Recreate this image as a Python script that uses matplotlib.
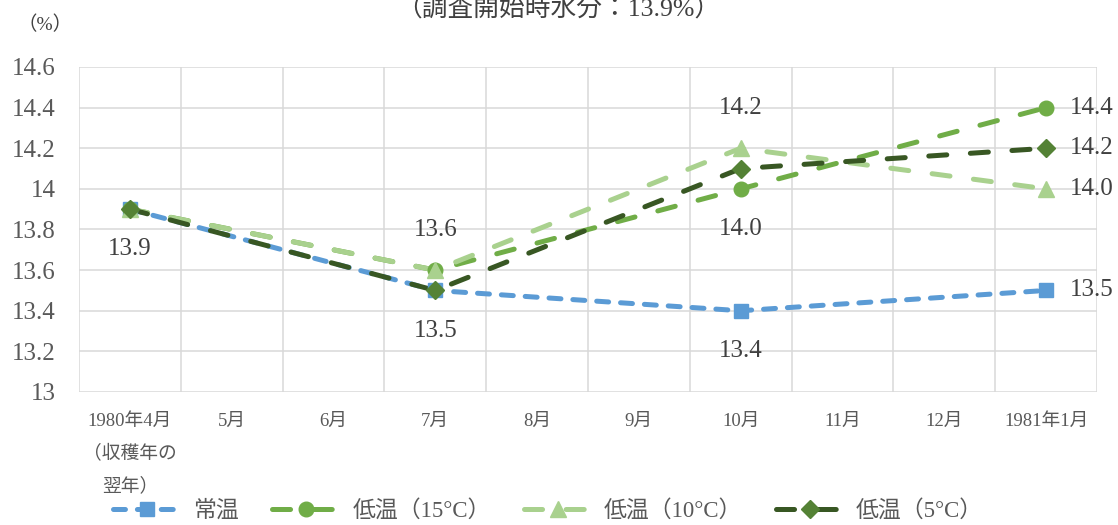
import matplotlib
matplotlib.use("Agg")
import matplotlib.pyplot as plt
from matplotlib.lines import Line2D
import numpy as np

plt.rcParams["font.family"] = ["Liberation Serif", "Noto Sans CJK JP", "DejaVu Sans"]
plt.rcParams["lines.scale_dashes"] = False

# ---- data ----
months = ["1980年4月\n（収穫年の\n翌年）", "5月", "6月", "7月", "8月", "9月",
          "10月", "11月", "12月", "1981年1月"]
sample_idx = [0, 3, 6, 9]          # months where moisture was measured
normal = [13.9, 13.5, 13.4, 13.5]
low15 = [13.9, 13.6, 14.0, 14.4]
low10 = [13.9, 13.6, 14.2, 14.0]
low5 = [13.9, 13.5, 14.1, 14.2]
series_names = ["常温", "低温（15°C）", "低温（10°C）", "低温（5°C）"]
y_ticks = [13.0, 13.2, 13.4, 13.6, 13.8, 14.0, 14.2, 14.4, 14.6]
y_tick_labels = ["13", "13.2", "13.4", "13.6", "13.8", "14", "14.2", "14.4", "14.6"]
title = "（調査開始時水分：13.9%）"
unit = "（%）"

# which points carry a value label, and where: (point index, placement)
labels_normal = [(0, "below"), (1, "below"), (2, "below"), (3, "right")]
labels_15 = [(2, "below"), (3, "right")]
labels_10 = [(1, "above"), (2, "above"), (3, "right")]
labels_5 = [(3, "right")]

# ---- styles ----
styles = [
    dict(color="#5B9BD5", mcolor="#5B9BD5", marker="s", ms=10, dash=(8.6, 8.6)),
    dict(color="#70AD47", mcolor="#70AD47", marker="o", ms=10.5, dash=(13, 17)),
    dict(color="#A9D18E", mcolor="#A9D18E", marker="^", ms=11, dash=(13, 17)),
    dict(color="#385723", mcolor="#548235", marker="D", ms=9, dash=(13, 17)),
]
LW = 3.6
TEXT = "#404040"
TICK = "#595959"
GRID = "#D9D9D9"

W, H = 1118, 525
fig = plt.figure(figsize=(W / 100, H / 100), dpi=100)
ax = fig.add_axes([79 / W, (H - 392) / H, (1097 - 79) / W, (392 - 67) / H])

all_series = [normal, low15, low10, low5]
all_labels = [labels_normal, labels_15, labels_10, labels_5]
handles = []
for vals, st, name, labs in zip(all_series, styles, series_names, all_labels):
    ax.plot(sample_idx, vals, color=st["color"], linewidth=LW,
            linestyle=(0, st["dash"]), dash_capstyle="round",
            dash_joinstyle="round", zorder=3)
    ax.plot(sample_idx, vals, linestyle="none", marker=st["marker"],
            markersize=st["ms"], markerfacecolor=st["mcolor"],
            markeredgecolor=st["mcolor"], zorder=4)
    handles.append(Line2D([], [], color=st["color"], linewidth=LW,
                          linestyle=(0, st["dash"]), dash_capstyle="round",
                          marker=st["marker"], markersize=st["ms"],
                          markerfacecolor=st["mcolor"],
                          markeredgecolor=st["mcolor"], label=name))
    for i, where in labs:
        if where == "below":
            off, ha, va = (0, -29), "center", "center"
        elif where == "above":
            off, ha, va = (0, 29), "center", "center"
        else:
            off, ha, va = (17, 0), "left", "center"
        ax.annotate(f"{vals[i]:.1f}", (sample_idx[i], vals[i]),
                    xytext=off, textcoords="offset points",
                    ha=ha, va=va, fontsize=18, color=TEXT, zorder=5)

# ---- axes ----
ax.set_xlim(-0.5, len(months) - 0.5)
ax.set_ylim(y_ticks[0], y_ticks[-1])
ax.set_xticks(range(len(months)))
ax.set_xticklabels(months, fontsize=13.5, color=TICK, linespacing=2.05,
                   va="top")
ax.set_xticks(np.arange(-0.5, len(months), 1.0), minor=True)
ax.set_yticks(y_ticks)
ax.set_yticklabels(y_tick_labels, fontsize=18, color=TICK)
ax.tick_params(axis="x", which="both", length=0, pad=15)
ax.tick_params(axis="y", length=0, pad=17)
ax.grid(axis="y", which="major", color=GRID, linewidth=1.1)
ax.grid(axis="x", which="minor", color=GRID, linewidth=1.1)
ax.grid(axis="x", which="major", visible=False)
ax.set_axisbelow(True)
for s in ax.spines.values():
    s.set_visible(False)

fig.text(558 / W, 1 - 17 / H, title, ha="center", va="baseline",
         fontsize=18.5, color=TEXT)
fig.text(45 / W, 1 - 25 / H, unit, ha="center", va="center",
         fontsize=14, color=TEXT)

fig.legend(handles=handles, loc="center", bbox_to_anchor=(548 / W, 1 - 511 / H),
           ncol=4, frameon=False, fontsize=16.5, handlelength=3.0,
           handletextpad=0.5, columnspacing=1.45, labelcolor=TICK)

fig.savefig("out.png", dpi=100)
